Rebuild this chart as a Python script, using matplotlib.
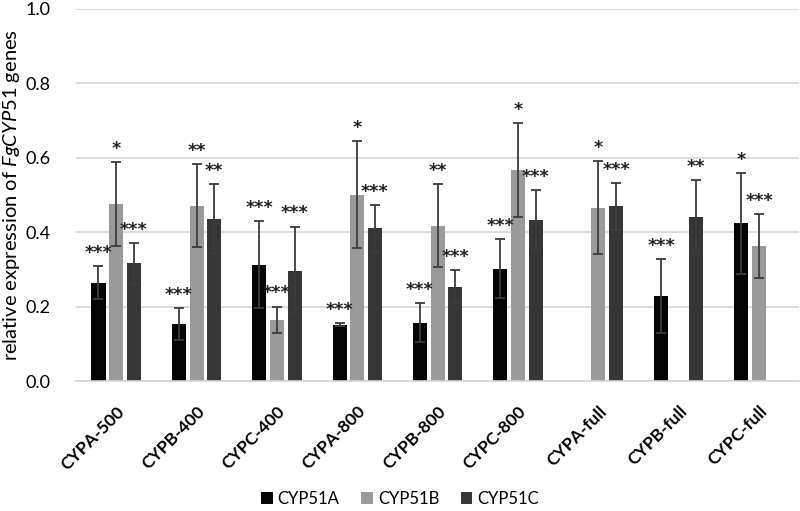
#!/usr/local/bin/python3
# coding: utf-8

#--- モジュールのインポート ---#
import matplotlib
matplotlib.use("Agg")
import matplotlib.pyplot as plt
import numpy as np

#--- データ ---#
categories = ["CYPA-500", "CYPB-400", "CYPC-400", "CYPA-800", "CYPB-800",
              "CYPC-800", "CYPA-full", "CYPB-full", "CYPC-full"]
series_names = ["CYP51A", "CYP51B", "CYP51C"]

# 平均値 (NaN = バーなし)
cyp51a_mean = [0.264, 0.153, 0.312, 0.151, 0.157, 0.302, np.nan, 0.229, 0.424]
cyp51b_mean = [0.476, 0.471, 0.164, 0.501, 0.418, 0.568, 0.466, np.nan, 0.363]
cyp51c_mean = [0.316, 0.436, 0.297, 0.411, 0.254, 0.434, 0.470, 0.441, np.nan]

# 標準偏差
cyp51a_err = [0.044, 0.042, 0.117, 0.004, 0.053, 0.080, np.nan, 0.099, 0.136]
cyp51b_err = [0.113, 0.111, 0.036, 0.143, 0.112, 0.126, 0.125, np.nan, 0.085]
cyp51c_err = [0.054, 0.094, 0.118, 0.063, 0.045, 0.080, 0.063, 0.099, np.nan]

# 有意差マーク
cyp51a_sig = ["***", "***", "***", "***", "***", "***", "", "***", "*"]
cyp51b_sig = ["*", "**", "***", "*", "**", "*", "*", "", "***"]
cyp51c_sig = ["***", "**", "***", "***", "***", "***", "***", "**", ""]

#--- main関数 ---#
def main():

    #--- rcParams設定 ---#
    plt.rcParams['font.family'] = ['Lato', 'DejaVu Sans']
    plt.rcParams['mathtext.fontset'] = 'custom'
    plt.rcParams['mathtext.it'] = 'Lato:italic'
    plt.rcParams['mathtext.rm'] = 'Lato'

    means = [cyp51a_mean, cyp51b_mean, cyp51c_mean]
    errs = [cyp51a_err, cyp51b_err, cyp51c_err]
    sigs = [cyp51a_sig, cyp51b_sig, cyp51c_sig]
    colors = ['#050505', '#9a9a9a', '#363636']

    fig = plt.figure(figsize=(8.0, 5.11), dpi=100)
    ax = fig.add_axes([0.095, 0.2544, 0.904, 0.728])

    x = np.arange(len(categories))
    width = 0.175
    step = 0.22

    for i in range(3):
        pos = x + (i - 1) * step
        m = np.array(means[i], dtype=float)
        e = np.array(errs[i], dtype=float)
        ax.bar(pos, m, width=width, color=colors[i], label=series_names[i], zorder=2)
        ax.errorbar(pos, m, yerr=e, fmt='none', ecolor='#3c3c3c', elinewidth=1.3,
                    capsize=3.5, capthick=1.3, zorder=3)
        # 有意差マーク
        for p, mv, ev, s in zip(pos, m, e, sigs[i]):
            if s and not np.isnan(mv):
                ax.annotate(s, xy=(p, mv + ev), xytext=(0, 3), textcoords='offset points',
                            ha='center', va='bottom', fontsize=12.5, color='#222222',
                            family='DejaVu Sans', fontweight='bold')

    #--- 書式設定 ---#
    ax.set_ylim(0, 1.0)
    ax.set_xlim(-0.5, len(categories) - 0.5)
    ax.set_yticks(np.arange(0, 1.01, 0.2))
    ax.set_yticklabels([f"{v:.1f}" for v in np.arange(0, 1.01, 0.2)])
    ax.yaxis.grid(True, color='#d6d6d6', linewidth=1.2, zorder=0)
    ax.set_axisbelow(True)
    for sp in ['top', 'right', 'left']:
        ax.spines[sp].set_visible(False)
    ax.spines['bottom'].set_color('#d6d6d6')
    ax.spines['bottom'].set_linewidth(1.2)
    ax.tick_params(axis='y', length=0, pad=18, labelsize=13)
    ax.tick_params(axis='x', length=0, pad=16)

    ax.set_xticks(x)
    ax.set_xticklabels(categories, rotation=45, ha='right', va='top',
                       rotation_mode='anchor', fontsize=12.5, fontweight='bold')

    ax.set_ylabel(r"relative expression of $\mathit{FgCYP51}$ genes", fontsize=14.5)
    ax.yaxis.set_label_coords(-0.074, 0.5)

    fig.legend(loc='center', bbox_to_anchor=(0.5, 1 - 499 / 511), ncol=3, frameon=False,
               fontsize=12, handlelength=0.7, handleheight=0.7, handletextpad=0.3,
               columnspacing=1.3, borderaxespad=0.2)

    plt.savefig("out.png", dpi=100)

if __name__ == "__main__":
    main()
